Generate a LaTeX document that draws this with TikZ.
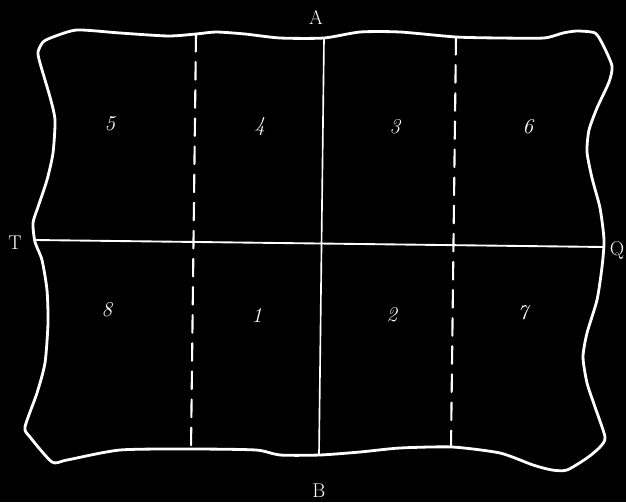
\documentclass[tikz,border=0pt]{standalone}
\usepackage{tikz}
\usetikzlibrary{calc}

\begin{document}
\begin{tikzpicture}[
    x=0.03cm, y=-0.03cm,
    line cap=round,
    line join=round,
    font=\fontsize{17}{20}\selectfont,
    every node/.style={text=white},
    hide/.style={white, line width=2.4pt},
    cut/.style={white, line width=1.4pt},
    fold/.style={white, line width=1.8pt, dash pattern=on 15pt off 9pt},
    part/.style={font=\fontsize{18}{20}\selectfont\itshape}
]

% Background
\fill[black] (0,0) rectangle (626,502);
\useasboundingbox (0,0) rectangle (626,502);

% Outline of the hide
\draw[hide] plot[smooth cycle, tension=0.4] coordinates {
    (38,52) (43,42) (53,37) (77,30) (120,33) (168,36) (196,34) (216,32)
    (245,34) (280,38) (324,38) (360,32) (400,32) (456,37) (500,38)
    (544,38) (563,33) (577,31) (595,33) (603,45) (612,66) (609,82)
    (597,108) (589,130) (587,152) (592,178) (600,208)
    (604,240) (602,267) (597,300) (587,333) (583,357) (587,383)
    (595,407) (605,437) (600,447) (587,458) (567,470) (552,470)
    (533,465) (500,453) (452,447) (400,448) (360,452) (320,455)
    (280,455) (256,450) (192,449) (120,450) (67,460) (52,462)
    (30,437) (25,427) (37,393) (45,363) (48,323) (47,290) (42,260)
    (35,242) (33,223) (38,207) (47,180) (53,153) (55,120) (50,97)
    (40,63)
};

% Main cut lines
\coordinate (Atop) at (324,38);
\coordinate (Bbot) at (319,455);
\coordinate (Tleft) at (35,240);
\coordinate (Qright) at (604,247);
\draw[cut] (Atop) -- (Bbot);
\draw[cut, line width=1.6pt] (Tleft) -- (Qright);

% Dashed lines
\coordinate (Ltop) at (196,34);
\coordinate (Lbot) at (191,449);
\coordinate (Rtop) at (456,37);
\coordinate (Rbot) at (451,447);
\draw[fold] (Ltop) -- (Lbot);
\draw[fold] (Rtop) -- (Rbot);

% Letters
\node (lblA) at (316,17) {A};
\node (lblB) at (319,491) {B};
\node (lblT) at (15,243) {T};
\node (lblQ) at (617,250) {Q};

% Parts
\node[part] (p5) at (110,124) {5};
\node[part] (p4) at (260,127) {4};
\node[part] (p3) at (395,127) {3};
\node[part] (p6) at (528,127) {6};
\node[part] (p8) at (107,310) {8};
\node[part] (p1) at (257,315) {1};
\node[part] (p2) at (392,315) {2};
\node[part] (p7) at (523,313) {7};

\end{tikzpicture}
\end{document}
